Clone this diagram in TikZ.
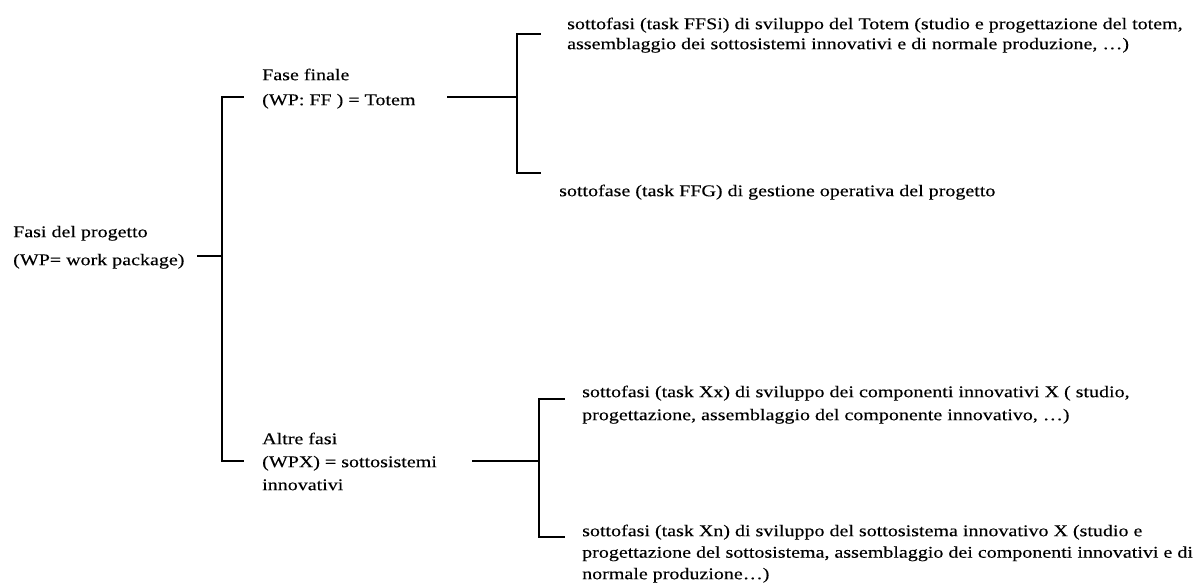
\documentclass[tikz,border=0pt]{standalone}
\usepackage{fontspec}
\setmainfont{Liberation Serif}[FakeStretch=1.22, FakeBold=0.2]
\newcommand\lnA{\rule{0pt}{12pt}}
\begin{document}
\begin{tikzpicture}[x=1pt,y=-1pt,
  lbl/.style={anchor=north west, inner sep=0pt, align=left,
              font=\fontsize{16.4}{#1}\selectfont},
  wire/.style={line width=1.3pt, line cap=rect}]
\useasboundingbox (0,0) rectangle (1204,583);

% text blocks
\node[lbl=28] (root) at (13,225) {\lnA Fasi del progetto\\(WP= work package)};
\node[lbl=25] (ff) at (262,68) {\lnA Fase finale\\(WP: FF ) = Totem};
\node[lbl=20] (ffs) at (567,17) {\lnA sottofasi (task FFSi) di sviluppo del Totem (studio e progettazione del totem,\\assemblaggio dei sottosistemi innovativi e di normale produzione, …)};
\node[lbl=20] (ffg) at (559,184) {\lnA sottofase (task FFG) di gestione operativa del progetto};
\node[lbl=23] (alt) at (262,432) {\lnA Altre fasi\\(WPX) = sottosistemi\\innovativi};
\node[lbl=23] (xx) at (582,385) {\lnA sottofasi (task Xx) di sviluppo dei componenti innovativi X ( studio,\\progettazione, assemblaggio del componente innovativo, …)};
\node[lbl=21.5] (xn) at (582,524) {\lnA sottofasi (task Xn) di sviluppo del sottosistema innovativo X (studio e\\progettazione del sottosistema, assemblaggio dei componenti innovativi e di\\normale produzione…)};

% junction points of the brackets
\coordinate (r0) at (198,256);
\coordinate (j0) at (222,256);
\coordinate (t0) at (243,97);
\coordinate (b0) at (243,461);

\coordinate (f1) at (448,97);
\coordinate (j1) at (517,97);
\coordinate (t1) at (540,34);
\coordinate (b1) at (540,173);

\coordinate (f2) at (473,461);
\coordinate (j2) at (539,461);
\coordinate (t2) at (564,399);
\coordinate (b2) at (564,537);

% root bracket
\draw[wire] (r0) -- (j0);
\draw[wire] (t0) -| (j0) |- (b0);
% final phase bracket
\draw[wire] (f1) -- (j1);
\draw[wire] (t1) -| (j1) |- (b1);
% other phases bracket
\draw[wire] (f2) -- (j2);
\draw[wire] (t2) -| (j2) |- (b2);
\end{tikzpicture}
\end{document}
